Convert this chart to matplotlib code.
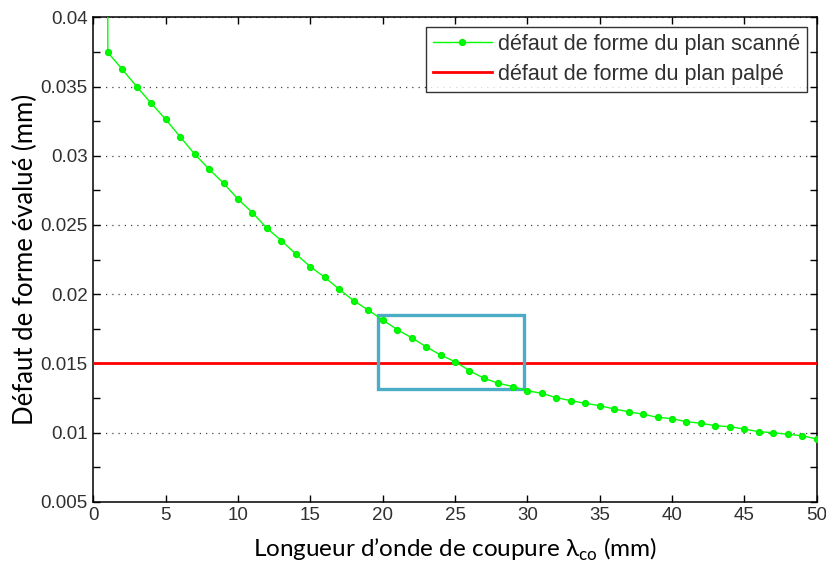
import matplotlib
matplotlib.use('Agg')
import matplotlib.pyplot as plt
import matplotlib.patches as patches
from matplotlib.ticker import MultipleLocator, FormatStrFormatter

# cut-off wavelength (mm) and evaluated flatness defect (mm)
lambda_co = [0.98, 1, 2, 3, 4, 5, 6, 7, 8, 9, 10,
             11, 12, 13, 14, 15, 16, 17, 18, 19, 20,
             21, 22, 23, 24, 25, 26, 27, 28, 29, 30,
             31, 32, 33, 34, 35, 36, 37, 38, 39, 40,
             41, 42, 43, 44, 45, 46, 47, 48, 49, 50]
defaut_scanne = [0.0600, 0.03747, 0.03624, 0.03499, 0.03379, 0.03263, 0.03137, 0.03012, 0.02903, 0.02801, 0.02687,
                 0.02588, 0.02476, 0.02386, 0.02290, 0.02198, 0.02121, 0.02035, 0.01952, 0.01885, 0.01813,
                 0.01744, 0.01685, 0.01620, 0.01560, 0.01512, 0.01447, 0.01392, 0.01356, 0.01332, 0.01302,
                 0.01283, 0.01252, 0.01230, 0.01211, 0.01194, 0.01170, 0.01150, 0.01132, 0.01110, 0.01100,
                 0.01078, 0.01067, 0.01049, 0.01042, 0.01025, 0.01006, 0.00999, 0.00987, 0.00977, 0.00953]
defaut_palpe = 0.015

# highlighted zone (x0, x1, y0, y1)
zone = [19.7, 29.8, 0.01312, 0.01849]

plt.rcParams['font.family'] = ['Liberation Sans', 'DejaVu Sans']
plt.rcParams['mathtext.fontset'] = 'custom'
plt.rcParams['mathtext.rm'] = 'Lato'

fig = plt.figure(figsize=(8.26, 5.68), dpi=100)
ax = fig.add_axes([0.113, 0.1167, 0.8757, 0.8528])

ax.plot(lambda_co, defaut_scanne, color='#00ff00', lw=1.0, marker='o', ms=4.2,
        mec='#00ee00', mfc='#00ff00', label='défaut de forme du plan scanné', zorder=4)
ax.axhline(defaut_palpe, color='#ff0000', lw=2.0, label='défaut de forme du plan palpé', zorder=3)

ax.add_patch(patches.Rectangle((zone[0], zone[2]), zone[1] - zone[0], zone[3] - zone[2],
                               fill=False, edgecolor='#4bacc6', lw=2.4, zorder=3.5))

ax.set_xlim(0, 50)
ax.set_ylim(0.005, 0.04)
ax.xaxis.set_major_locator(MultipleLocator(5))
ax.yaxis.set_major_locator(MultipleLocator(0.005))
ax.yaxis.set_minor_locator(MultipleLocator(0.0025))
ax.yaxis.set_major_formatter(FormatStrFormatter('%g'))
ax.tick_params(which='both', direction='in', top=True, right=True, length=5, width=1,
               labelsize=13.5, labelcolor='#303030', pad=4)
ax.grid(axis='y', which='major', color='#444444', lw=0.9, linestyle=(0, (1, 4)))
for s in ax.spines.values():
    s.set_linewidth(1.1)

ax.set_xlabel('Longueur d’onde de coupure λ$_{\\mathrm{co}}$ (mm)', family=['Lato', 'DejaVu Sans'],
              fontsize=17.5, labelpad=8)
ax.set_ylabel('Défaut de forme évalué (mm)', family=['Lato', 'DejaVu Sans'], fontsize=18.5, labelpad=1.5)

leg = ax.legend(loc='upper right', fontsize=15.5, frameon=True, fancybox=False, handlelength=2.7,
                borderaxespad=0.45, handletextpad=0.3, labelspacing=0.42, borderpad=0.32)
leg.get_frame().set_edgecolor('black')
leg.get_frame().set_linewidth(1.0)
for t in leg.get_texts():
    t.set_color('#303030')

plt.savefig('out.png', dpi=100)
